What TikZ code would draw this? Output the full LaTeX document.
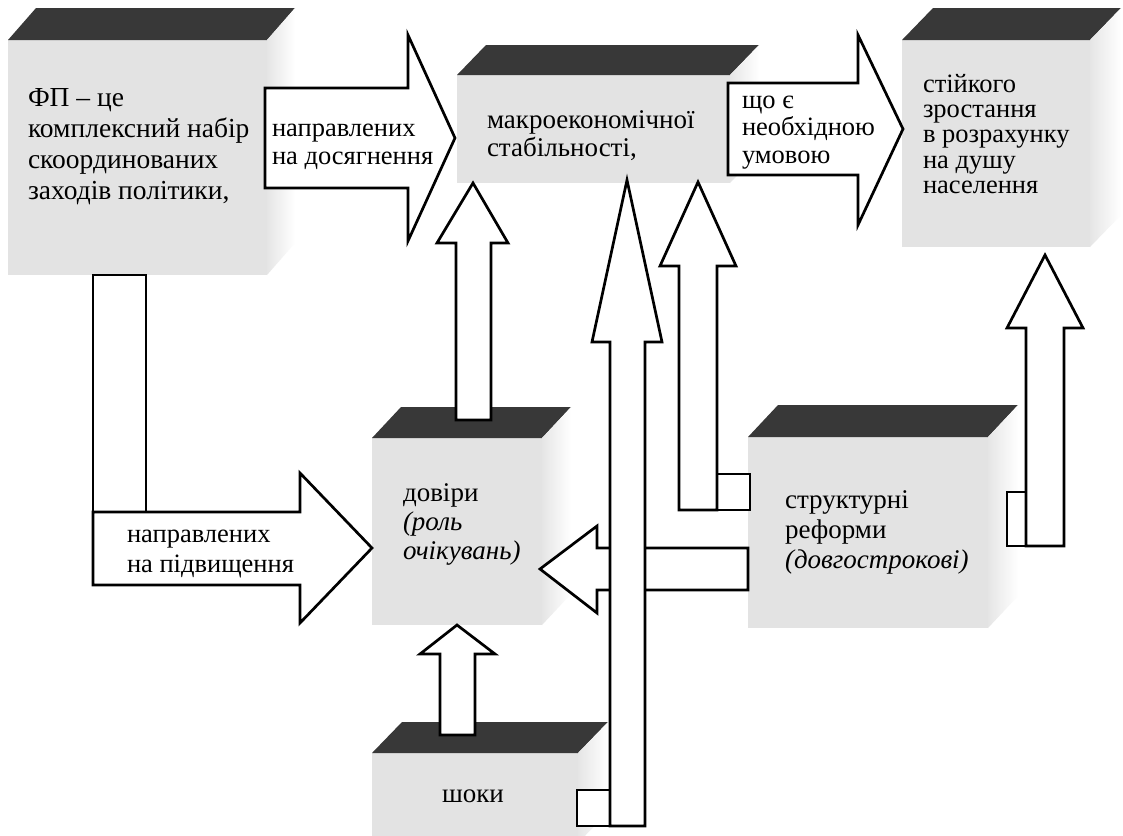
\documentclass[tikz,border=0pt]{standalone}
\usepackage{fontspec}
\setmainfont{Liberation Serif}
\newcommand\mkcube[7]{% name, x, y, w, h, dx, dy
  \node[front, minimum width=#4, minimum height=#5] (#1) at (#2,#3) {};
  \fill[topface] (#1.north west) -- (#1.north east) -- ++(#6,-#7) -- ++(-#4,0) -- cycle;
  \shade[left color=gray!20, right color=white] (#1.north east) -- ++(#6,-#7) -- ++(0,#5) -- (#1.south east) -- cycle;
}
\begin{document}
\begin{tikzpicture}[x=1pt,y=-1pt,
  front/.style={draw=none, fill=gray!22, inner sep=0, outer sep=0, anchor=north west},
  topface/.style={fill=black!78},
  blockarrow/.style={draw=black, fill=white, line width=2.7pt, line join=miter},
  txt/.style n args={2}{inner sep=0, outer sep=0, anchor=west, align=left, font=\fontsize{#1}{#2}\selectfont}
]
\clip (0,0) rectangle (1123,835);
\fill[white] (0,0) rectangle (1123,835);

% boxes
\mkcube{fp}{8}{40}{259}{235}{28}{32}
\mkcube{macro}{457}{75}{273}{108}{29}{30}
\mkcube{growth}{902}{40}{188}{207}{31}{32}
\mkcube{trust}{372}{438}{170}{187}{29}{31}
\mkcube{shocks}{372}{753}{206}{90}{30}{31}
\mkcube{reform}{748}{437}{240}{191}{30}{32}

% arrow: FP -> macro
\draw[blockarrow] (265,88) -- (408,88) -- (408,35) -- (455,138) -- (408,241) -- (408,188) -- (265,188) -- cycle;
% arrow: macro -> growth
\draw[blockarrow] (728,83) -- (858,83) -- (858,35) -- (903,129) -- (858,225) -- (858,175) -- (728,175) -- cycle;
% arrow: FP -> trust (L-shaped)
\draw[blockarrow] (93,275) rectangle (146,512);
\draw[blockarrow] (93,512) -- (300,512) -- (300,473) -- (372,548) -- (300,623) -- (300,585) -- (93,585) -- cycle;
% arrow: trust -> macro
\draw[blockarrow] (456,420) -- (456,243) -- (437,243) -- (473,183) -- (508,243) -- (491,243) -- (491,420) -- cycle;
% arrow: shocks -> trust
\draw[blockarrow] (440,735) -- (440,654) -- (420,654) -- (457,625) -- (495,654) -- (475,654) -- (475,735) -- cycle;
% arrow: reform -> trust
\draw[blockarrow] (748,548) -- (597,548) -- (597,526) -- (540,569) -- (597,613) -- (597,590) -- (748,590) -- cycle;
% arrow: shocks -> macro (long)
\draw[blockarrow] (577,790) rectangle (610,826);
\draw[blockarrow] (610,826) -- (610,342) -- (592,342) -- (627,180) -- (662,342) -- (645,342) -- (645,826) -- cycle;
% arrow: reform -> macro
\draw[blockarrow] (717,474) rectangle (750,510);
\draw[blockarrow] (679,510) -- (679,266) -- (660,266) -- (698,182) -- (736,266) -- (717,266) -- (717,510) -- cycle;
% arrow: reform -> growth
\draw[blockarrow] (1007,492) rectangle (1026,546);
\draw[blockarrow] (1026,546) -- (1026,328) -- (1007,328) -- (1045,255) -- (1083,328) -- (1064,328) -- (1064,546) -- cycle;

% texts
\node[txt={27.5}{31}] (tfp) at (28,147) {\strut ФП – це\\\strut комплексний набір\\\strut скоординованих\\\strut заходів політики,};
\node[txt={26.5}{28}] (ta1) at (272,145) {\strut направлених\\\strut на досягнення};
\node[txt={27}{27}] (tmacro) at (487,137) {\strut макроекономічної\\\strut стабільності,};
\node[txt={26.5}{27.5}] (ta2) at (742,130) {\strut що є\\\strut необхідною\\\strut умовою};
\node[txt={26.5}{25.25}] (tgrowth) at (923,137.5) {\strut стійкого\\\strut зростання\\\strut в розрахунку\\\strut на душу\\\strut населення};
\node[txt={27}{29}] (ttrust) at (403,525) {\strut довіри\\\strut\itshape (роль\\\strut\itshape очікувань)};
\node[txt={26.5}{30}] (taA) at (127,551) {\strut направлених\\\strut на підвищення};
\node[txt={27}{30}] (treform) at (785,532) {\strut структурні\\\strut реформи\\\strut\itshape (довгострокові)};
\node[inner sep=0, anchor=base, font=\fontsize{27}{30}\selectfont] (tshocks) at (473,802) {шоки};
\end{tikzpicture}
\end{document}
